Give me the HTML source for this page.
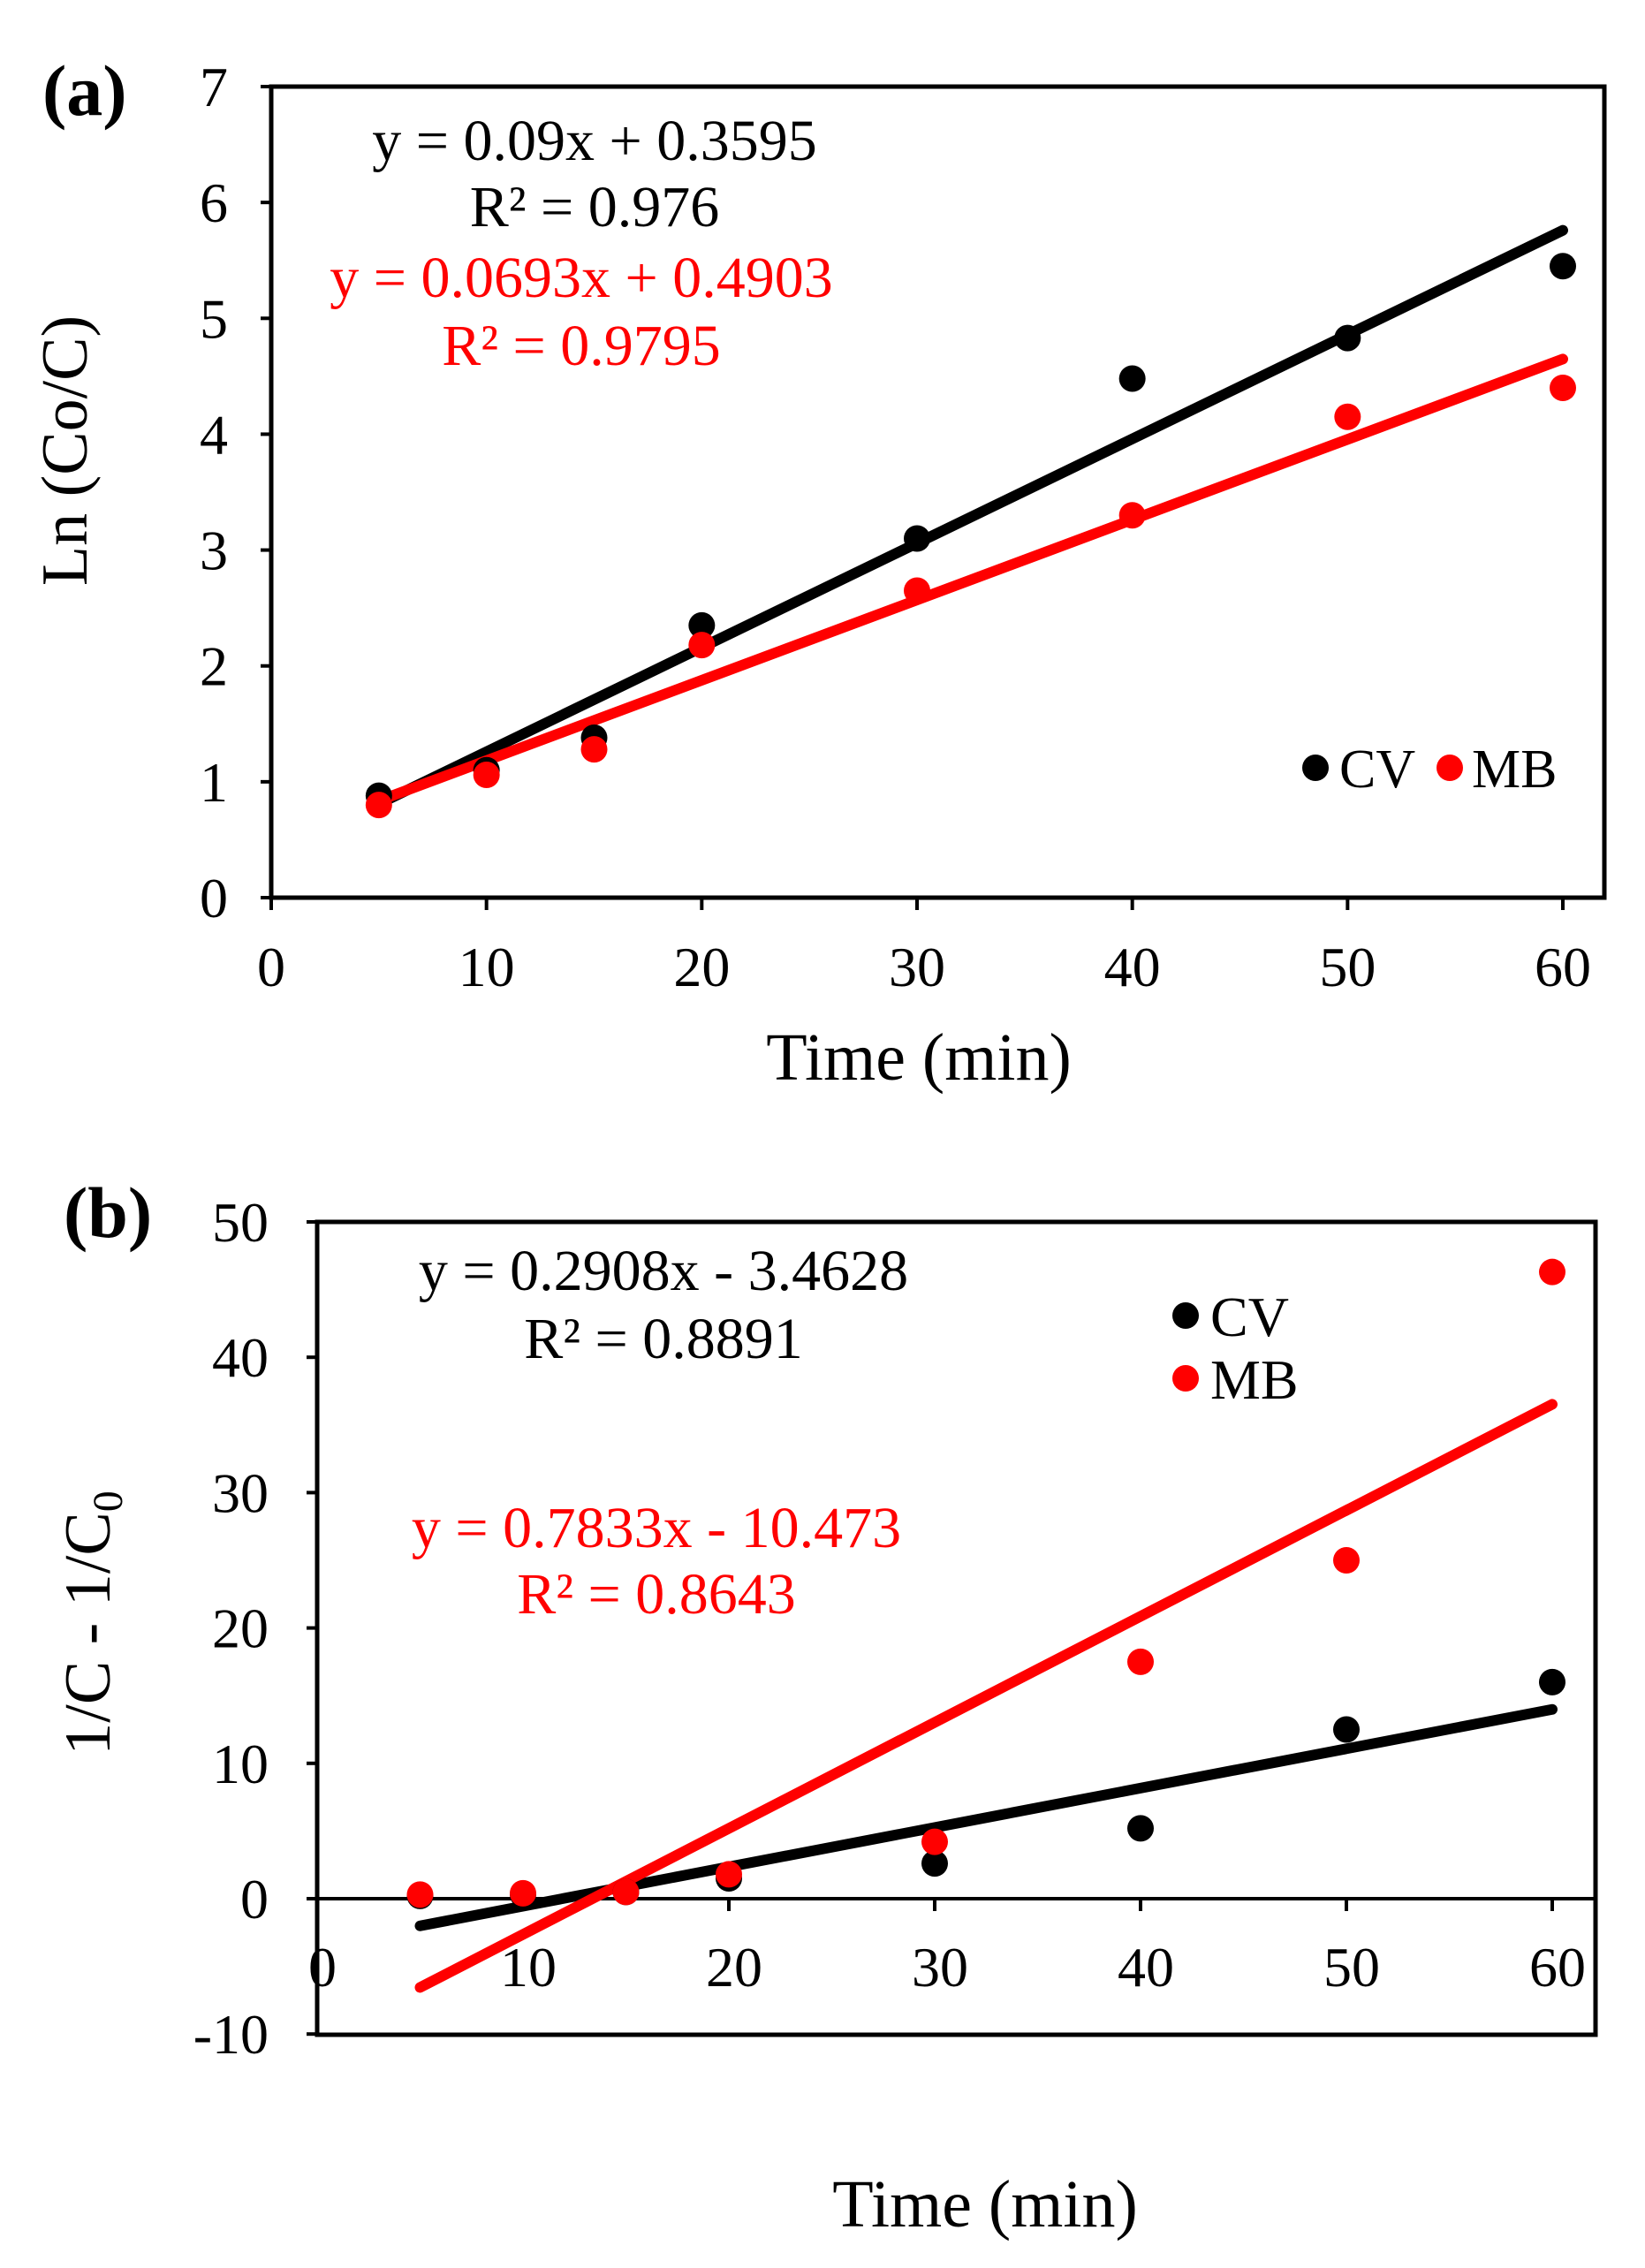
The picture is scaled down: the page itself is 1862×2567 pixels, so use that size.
<!DOCTYPE html>
<html><head><meta charset="utf-8"><style>
html,body{margin:0;padding:0;background:#fff;}
svg{display:block;font-family:"Liberation Serif",serif;}
</style></head><body>
<svg id="fig" width="1862" height="2567" viewBox="0 0 1862 2567">
<g id="ga"></g>
<g id="gb"></g>
</svg>
<script>
const xTicksA = [0,10,20,30,40,50,60];
const yTicksA = [0,1,2,3,4,5,6,7];
const timesA = [5,10,15,20,30,40,50,60];
const cvA = [0.88,1.1,1.38,2.35,3.1,4.48,4.83,5.45];
const mbA = [0.8,1.06,1.28,2.18,2.65,3.3,4.15,4.4];
const fitA_cv = [0.09,0.3595];
const fitA_mb = [0.0693,0.4903];

const xTicksB = [0,10,20,30,40,50,60];
const yTicksB = [-10,0,10,20,30,40,50];
const timesB = [5,10,15,20,30,40,50,60];
const cvB = [0.2,0.3,0.5,1.5,2.6,5.2,12.5,16];
const mbB = [0.3,0.4,0.5,1.8,4.2,17.5,25,46.3];
const fitB_cv = [0.2908,-3.4628];
const fitB_mb = [0.7833,-10.473];

const NS='http://www.w3.org/2000/svg';
function mk(parent,tag,attrs,text){const e=document.createElementNS(NS,tag);for(const k in attrs)e.setAttribute(k,attrs[k]);if(text!==undefined)e.textContent=text;parent.appendChild(e);return e;}

// Chart A
(function(){
const g=document.getElementById('ga');
const X=v=>307+(1769-307)*v/60, Y=v=>1016-(1016-98)*v/7;
let r=mk(g,'rect',{x:307,y:98,width:1816-307,height:1016-98,fill:'none',stroke:'#000','stroke-width':5});

yTicksA.forEach(t=>{let l=mk(g,'line',{x1:295,x2:307,y1:Y(t),y2:Y(t),stroke:'#000','stroke-width':4});

let tx=mk(g,'text',{x:258,y:Y(t)+22,'text-anchor':'end','font-size':64},t);
});
xTicksA.forEach(t=>{let l=mk(g,'line',{x1:X(t),x2:X(t),y1:1016,y2:1030,stroke:'#000','stroke-width':4});

let tx=mk(g,'text',{x:X(t),y:1116,'text-anchor':'middle','font-size':64},t);
});
[[fitA_cv,'#000'],[fitA_mb,'#f00']].forEach(([f,c])=>{let l=mk(g,'line',{x1:X(5),y1:Y(f[0]*5+f[1]),x2:X(60),y2:Y(f[0]*60+f[1]),stroke:c,'stroke-width':12,'stroke-linecap':'round'});
});
[[cvA,'#000'],[mbA,'#f00']].forEach(([d,c])=>d.forEach((v,i)=>{let p=mk(g,'circle',{cx:X(timesA[i]),cy:Y(v),r:15,fill:c});
}));
const txt=[['(a)',48,130,'start',82,'#000','bold','panel-label-a'],
['y = 0.09x + 0.3595',673,181,'middle',66,'#000','normal','equation-cv-a'],
['R² = 0.976',673,256,'middle',66,'#000','normal','r2-cv-a'],
['y = 0.0693x + 0.4903',658,336,'middle',66,'#f00','normal','equation-mb-a'],
['R² = 0.9795',658,413,'middle',66,'#f00','normal','r2-mb-a'],
['Time (min)',1040,1222,'middle',76,'#000','normal','x-axis-title-a'],
['CV',1516,891,'start',62,'#000','normal','legend-cv-a'],
['MB',1666,891,'start',62,'#000','normal','legend-mb-a']];
txt.forEach(a=>{let t=mk(g,'text',{x:a[1],y:a[2],'text-anchor':a[3],'font-size':a[4],fill:a[5],'font-weight':a[6]},a[0]);
});
let yt=mk(g,'text',{x:0,y:0,transform:'translate(98,510) rotate(-90)','text-anchor':'middle','font-size':74},'Ln (Co/C)');

let d1=mk(g,'circle',{cx:1489,cy:869,r:15,fill:'#000'});
let d2=mk(g,'circle',{cx:1641,cy:869,r:15,fill:'#f00'});
})();

// Chart B
(function(){
const g=document.getElementById('gb');
const X=v=>359+(1757-359)*v/60, Y=v=>2149-(2149-1383)*v/50;
let r=mk(g,'rect',{x:359,y:1383,width:1806-359,height:2303-1383,fill:'none',stroke:'#000','stroke-width':5});

let ax=mk(g,'line',{x1:359,x2:1806,y1:Y(0),y2:Y(0),stroke:'#000','stroke-width':4});

yTicksB.forEach(t=>{let l=mk(g,'line',{x1:347,x2:359,y1:Y(t),y2:Y(t),stroke:'#000','stroke-width':4});

let tx=mk(g,'text',{x:304,y:Y(t)+22,'text-anchor':'end','font-size':64},t);
});
xTicksB.forEach(t=>{let l=mk(g,'line',{x1:X(t),x2:X(t),y1:Y(0),y2:Y(0)+14,stroke:'#000','stroke-width':4});

let tx=mk(g,'text',{x:X(t)+6,y:2248,'text-anchor':'middle','font-size':64},t);
});
[[fitB_cv,'#000'],[fitB_mb,'#f00']].forEach(([f,c])=>{let l=mk(g,'line',{x1:X(5),y1:Y(f[0]*5+f[1]),x2:X(60),y2:Y(f[0]*60+f[1]),stroke:c,'stroke-width':12,'stroke-linecap':'round'});
});
[[cvB,'#000'],[mbB,'#f00']].forEach(([d,c])=>d.forEach((v,i)=>{let p=mk(g,'circle',{cx:X(timesB[i]),cy:Y(v),r:15,fill:c});
}));
const txt=[['(b)',72,1400,'start',82,'#000','bold','panel-label-b'],
['y = 0.2908x - 3.4628',751,1460,'middle',66,'#000','normal','equation-cv-b'],
['R² = 0.8891',751,1537,'middle',66,'#000','normal','r2-cv-b'],
['y = 0.7833x - 10.473',743,1751,'middle',66,'#f00','normal','equation-mb-b'],
['R² = 0.8643',743,1826,'middle',66,'#f00','normal','r2-mb-b'],
['Time (min)',1115,2520,'middle',76,'#000','normal','x-axis-title-b'],
['CV',1370,1512,'start',64,'#000','normal','legend-cv-b'],
['MB',1370,1583,'start',64,'#000','normal','legend-mb-b']];
txt.forEach(a=>{let t=mk(g,'text',{x:a[1],y:a[2],'text-anchor':a[3],'font-size':a[4],fill:a[5],'font-weight':a[6]},a[0]);
});
let yt=mk(g,'text',{x:0,y:0,transform:'translate(124,1837) rotate(-90)','text-anchor':'middle','font-size':74},'1/C - 1/C');

mk(yt,'tspan',{'font-size':48,dy:14},'0');
let d1=mk(g,'circle',{cx:1342,cy:1489,r:15,fill:'#000'});
let d2=mk(g,'circle',{cx:1342,cy:1560,r:15,fill:'#f00'});
})();
</script>
</body></html>
